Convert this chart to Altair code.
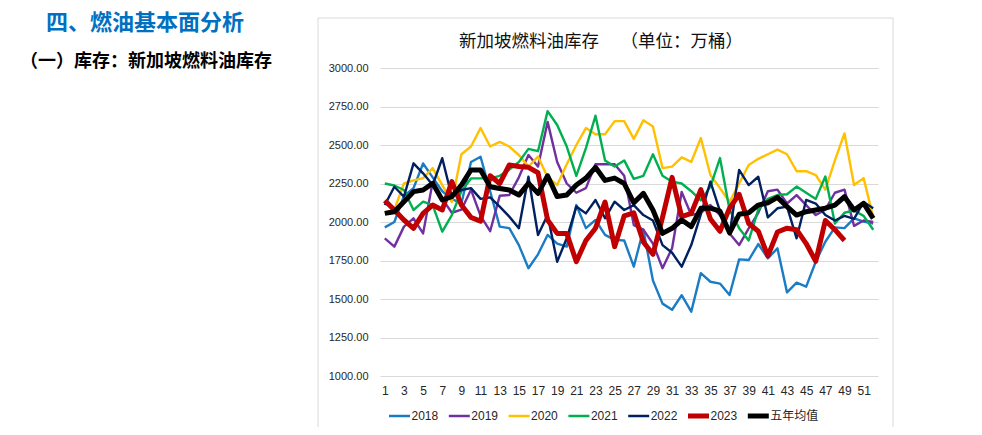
import altair as alt
import pandas as pd

weeks = list(range(1, 53))
series_names = ["2018", "2019", "2020", "2021", "2022", "2023", "五年均值"]
series_colors = ["#1B7CC6", "#7030A0", "#FFC000", "#00B050", "#002060", "#C00000", "#000000"]
thick_series = ["2023", "五年均值"]

s2018 = [1965, 2000, 2170, 2220, 2380, 2290, 2200, 2150, 2120, 2390, 2424, 2200, 1970, 1960, 1850, 1700,
         1790, 1916, 1860, 1840, 2110, 1960, 2013, 1916, 1884, 1880, 1710, 1950, 1620, 1470, 1430, 1525,
         1418, 1668, 1612, 1600, 1526, 1757, 1753, 1857, 1764, 1829, 1543, 1606, 1580, 1742, 1872, 1965,
         1960, 2024, 2002, 1990]
s2019 = [1894, 1840, 1970, 2024, 1926, 2260, 2150, 2060, 2080, 2210, 2040, 1940, 2170, 2175, 2290, 2435,
         2360, 2650, 2390, 2250, 2190, 2220, 2375, 2375, 2375, 2300, 1980, 1950, 1860, 1700, 1830, 2195,
         2045, 2060, 2110, 2045, 1926, 1850, 1959, 2060, 2200, 2210, 2120, 2175, 2110, 2045, 2080, 2190,
         2210, 1975, 2010, 2000]
s2020 = [2060, 2080, 2250, 2270, 2285, 2350, 2240, 2130, 2440, 2490, 2610, 2490, 2520, 2490, 2435, 2360,
         2425, 2290, 2240, 2375, 2500, 2610, 2570, 2570, 2655, 2655, 2540, 2660, 2620, 2350, 2360, 2420,
         2390, 2545, 2305, 2220, 2130, 2250, 2370, 2410, 2440, 2470, 2440, 2330, 2330, 2305, 2210, 2400,
         2575, 2240, 2285, 2030]
s2021 = [2250, 2237, 2208, 2078, 2132, 2110, 1937, 2045, 2200, 2283, 2283, 2283, 2300, 2340, 2390, 2475,
         2460, 2720, 2630, 2490, 2300, 2480, 2690, 2400, 2360, 2400, 2280, 2300, 2440, 2300, 2262, 2250,
         2200, 2140, 2230, 2415, 2080, 1960, 1880, 2080, 2150, 2175, 2180, 2230, 2190, 2150, 2295, 1990,
         2060, 2075, 2040, 1950]
s2022 = [2110, 2229, 2164, 2381, 2316, 2240, 2414, 2164, 2208, 2220, 2150, 2160, 2100, 2035, 1960, 2294,
         1916, 2045, 1742, 1894, 2100, 2056, 2143, 2024, 2132, 2078, 2110, 2045, 2010, 1850, 1800, 1710,
         1850, 2050, 2262, 2070, 1920, 2338, 2240, 2294, 2030, 2089, 2100, 1894, 2143, 2120, 2045, 2010,
         2040, 2020, 2130, 2090]
s2023 = [2140, 2078, 2013, 1959, 2056, 2110, 2078, 2262, 2110, 2030, 2005, 2300, 2250, 2370, 2360, 2355,
         2320, 2013, 1926, 1926, 1742, 1880, 1960, 2130, 1840, 2040, 2060, 1870, 1790, 2030, 2290, 2035,
         2056, 2210, 2020, 1940, 2090, 2180, 1990, 1940, 1780, 1935, 1960, 1950, 1860, 1745, 2010, 1950,
         1880]
s_avg = [2056, 2067, 2132, 2197, 2208, 2251, 2143, 2164, 2240, 2338, 2338, 2229, 2218, 2208, 2175, 2251,
         2186, 2300, 2165, 2175, 2240, 2285, 2355, 2270, 2285, 2250, 2125, 2186, 2078, 1926, 1959, 2013,
         1970, 2089, 2090, 2070, 1930, 2050, 2060, 2110, 2125, 2160, 2100, 2045, 2067, 2078, 2090, 2110,
         2164, 2078, 2121, 2024]

y_ticks = [1000, 1250, 1500, 1750, 2000, 2250, 2500, 2750, 3000]
x_ticks = list(range(1, 52, 2))

heading = "四、燃油基本面分析"
subheading = "（一）库存：新加坡燃料油库存"
chart_title = "新加坡燃料油库存　 （单位：万桶）"

rows = []
for name, vals in zip(series_names, [s2018, s2019, s2020, s2021, s2022, s2023, s_avg]):
    for w, v in zip(weeks, vals):
        rows.append({"week": w, "value": v, "series": name})
df = pd.DataFrame(rows)
legend_df = pd.DataFrame({"series": series_names})

FONT = "Liberation Sans, Arial, 'Noto Sans CJK SC', sans-serif"
CJK = "'Noto Sans CJK SC', sans-serif"

W, H = 498, 308

color_scale = alt.Scale(domain=series_names, range=series_colors)

x_enc = alt.X("week:Q", scale=alt.Scale(domain=[0.5, 52.5], nice=False, zero=False),
              axis=alt.Axis(values=x_ticks, grid=False, domain=False, ticks=False, title=None,
                            labelPadding=9, labelFontSize=12, labelFont=FONT, labelColor="#262626",
                            labelFlush=False))
y_enc = alt.Y("value:Q", scale=alt.Scale(domain=[1000, 3000], nice=False, zero=False),
              axis=alt.Axis(values=y_ticks, format=".2f", grid=True, gridColor="#d9d9d9", gridWidth=1,
                            domain=False, ticks=False, title=None, labelPadding=12, labelFontSize=11,
                            labelFont=FONT, labelColor="#262626"))
color_enc = alt.Color("series:N", scale=color_scale, legend=None)

box = alt.Chart(pd.DataFrame({"a": [0]})).mark_rect(
    fillOpacity=0, stroke="#d9d9d9", strokeWidth=1
).encode(x=alt.value(-62), x2=alt.value(513), y=alt.value(-50), y2=alt.value(360))

base = alt.Chart(df).encode(x=x_enc, y=y_enc, color=color_enc)
thin = base.transform_filter(
    ~alt.FieldOneOfPredicate(field="series", oneOf=thick_series)
).mark_line(strokeWidth=2.4, strokeJoin="round")
thick = base.transform_filter(
    alt.FieldOneOfPredicate(field="series", oneOf=thick_series)
).mark_line(strokeWidth=5, strokeJoin="round")
lines = alt.layer(thin, thick)

# legend drawn from the series list through a point scale
leg_x = alt.X("series:N", scale=alt.Scale(type="point", domain=series_names,
                                          range=[19.5, 19.5 + 6 * 59.8], padding=0), axis=None)
is_thick = alt.FieldOneOfPredicate(field="series", oneOf=thick_series)
leg_sym = alt.Chart(legend_df).mark_point(shape="stroke", size=441, filled=False, opacity=1).encode(
    x=leg_x, y=alt.value(348),
    stroke=alt.Color("series:N", scale=color_scale, legend=None),
    strokeWidth=alt.condition(is_thick, alt.value(5), alt.value(2.5)),
)
leg_txt = alt.Chart(legend_df).mark_text(
    align="left", baseline="middle", dx=12, fontSize=12, font=FONT, color="#262626"
).encode(x=leg_x, y=alt.value(348), text="series:N")
legend = alt.layer(leg_sym, leg_txt)

def label(text, x, y, size, color="#000000", weight="normal", align="left"):
    return alt.Chart(pd.DataFrame({"t": [text]})).mark_text(
        fontSize=size, font=CJK, fontWeight=weight, color=color, align=align, baseline="middle"
    ).encode(text="t:N", x=alt.value(x), y=alt.value(y))

t_head = label(heading, -334, -45, 22, color="#0070C0", weight="bold")
t_sub = label(subheading, -360, -6, 18, weight="bold")
t_title = label(chart_title, 221, -26, 17.5, color="#111111", align="center")

chart = alt.layer(box, lines, legend, t_head, t_sub, t_title).resolve_scale(
    x="independent"
).properties(
    width=W, height=H,
    autosize=alt.AutoSizeParams(type="none"),
    padding={"left": 372, "top": 60, "right": 96, "bottom": 51},
    background="white",
).configure_view(stroke=None)

chart.save("out.html", embed_options={"renderer": "svg", "actions": False})
